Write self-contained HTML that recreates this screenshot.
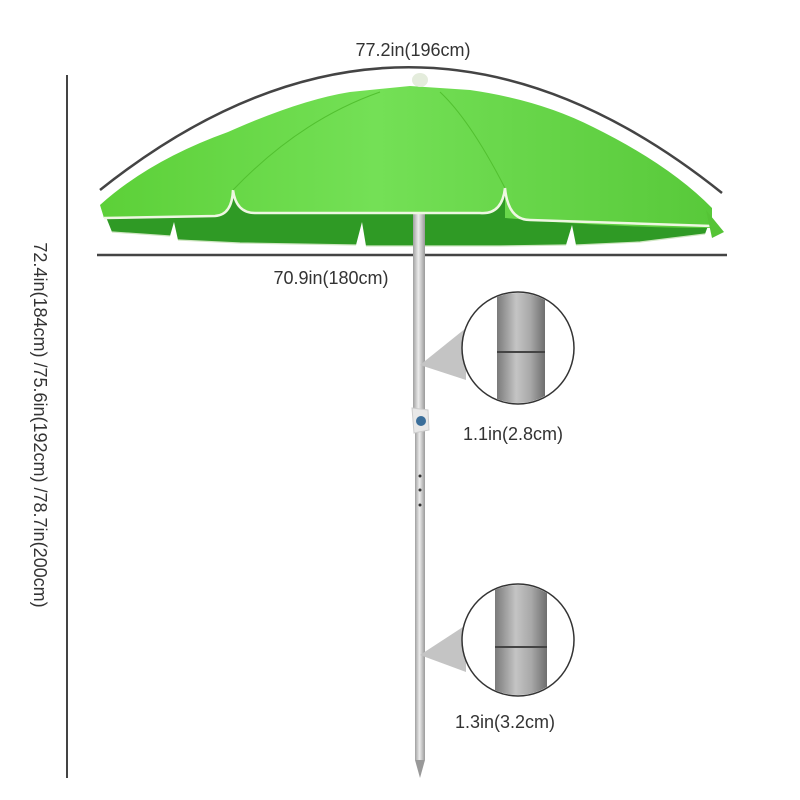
<!DOCTYPE html>
<html><head><meta charset="utf-8"><style>
html,body{margin:0;padding:0;background:#fff;}
svg{display:block;}
text{font-family:"Liberation Sans",sans-serif;fill:#333;font-size:18px;}
</style></head><body>
<svg width="800" height="800" viewBox="0 0 800 800" xmlns="http://www.w3.org/2000/svg">
<defs>
<linearGradient id="pole" x1="0" x2="1" y1="0" y2="0">
<stop offset="0" stop-color="#a0a0a0"/><stop offset="0.45" stop-color="#ececec"/><stop offset="1" stop-color="#9a9a9a"/>
</linearGradient>
<linearGradient id="bigpole" x1="0" x2="1" y1="0" y2="0">
<stop offset="0" stop-color="#7a7a7a"/><stop offset="0.4" stop-color="#c4c4c4"/><stop offset="0.7" stop-color="#a8a8a8"/><stop offset="1" stop-color="#6e6e6e"/>
</linearGradient>
<linearGradient id="canopy" x1="0" x2="1" y1="0" y2="0">
<stop offset="0" stop-color="#5cd038"/><stop offset="0.45" stop-color="#74e056"/><stop offset="1" stop-color="#58c93a"/>
</linearGradient>
<clipPath id="c1"><circle cx="518" cy="348" r="55"/></clipPath>
<clipPath id="c2"><circle cx="518" cy="640" r="55"/></clipPath>
</defs>

<!-- dimension arc -->
<path d="M100,190 Q410,-57 722,193" fill="none" stroke="#444" stroke-width="2.5"/>
<text x="413" y="56" text-anchor="middle">77.2in(196cm)</text>

<!-- underside -->
<path d="M104,212 L112,232 L170,236 L174,222 L178,240 L240,243 L356,245 L362,222 L366,246 L500,246 L566,245 L572,225 L576,245 L640,242 L705,234 L712,215 L600,190 L410,180 L230,190 Z" fill="#2f9a25"/>
<path d="M178,240 L240,243 L356,245 M366,246 L500,246 L566,245 M576,245 L640,242 L705,234 M112,232 L170,236" fill="none" stroke="#cfe6c2" stroke-width="1.2"/>
<rect x="413" y="210" width="12" height="40" fill="url(#pole)"/>
<!-- canopy -->
<path d="M100,205 Q150,160 228,132 Q300,100 350,92 L410,86 L470,90 Q540,100 593,127 Q670,165 712,208 L712,228 Q620,228 505,218 L505,190 Q500,215 480,213 L255,213 Q236,213 234,192 Q232,215 215,216 L104,218 Z" fill="url(#canopy)"/>
<path d="M104,218 L215,216 Q232,215 233,190 Q236,213 255,213 L480,213 Q502,215 505,188 Q508,220 530,220 L712,226" fill="none" stroke="#eef7e2" stroke-width="2.5"/>
<path d="M233,190 Q300,120 380,92 M505,188 Q470,120 440,92" fill="none" stroke="#52c030" stroke-width="1"/>
<path d="M706,210 L724,232 L712,238 Z" fill="#55c436"/>
<ellipse cx="420" cy="80" rx="8" ry="7" fill="#e4ecdc"/>

<!-- horizontal dim -->
<line x1="97" y1="255" x2="727" y2="255" stroke="#444" stroke-width="2.5"/>
<text x="331" y="284" text-anchor="middle">70.9in(180cm)</text>

<!-- vertical dim -->
<line x1="67" y1="75" x2="67" y2="778" stroke="#444" stroke-width="2"/>
<text transform="translate(34,425) rotate(90)" text-anchor="middle">72.4in(184cm) /75.6in(192cm) /78.7in(200cm)</text>

<!-- pole -->
<rect x="413" y="250" width="12" height="160" fill="url(#pole)"/>
<rect x="415" y="430" width="10" height="330" fill="url(#pole)"/>
<path d="M415,760 L425,760 L420,778 Z" fill="#999"/>
<path d="M412,408 L428,410 L429,430 L414,433 Z" fill="#e8e8e8" stroke="#ccc"/>
<circle cx="421" cy="421" r="5" fill="#3a6e9a"/>
<circle cx="420" cy="476" r="1.5" fill="#333"/><circle cx="420" cy="490" r="1.5" fill="#333"/><circle cx="420" cy="505" r="1.5" fill="#333"/>

<!-- callout 1 -->
<path d="M420,365 L466,328 L466,380 Z" fill="#c4c4c4"/>
<circle cx="518" cy="348" r="56" fill="#fff"/>
<g clip-path="url(#c1)"><rect x="497" y="280" width="48" height="140" fill="url(#bigpole)"/>
<line x1="497" y1="352" x2="545" y2="352" stroke="#444" stroke-width="2"/></g>
<circle cx="518" cy="348" r="56" fill="none" stroke="#333" stroke-width="1.5"/>
<text x="463" y="440">1.1in(2.8cm)</text>

<!-- callout 2 -->
<path d="M420,655 L466,625 L466,672 Z" fill="#c4c4c4"/>
<circle cx="518" cy="640" r="56" fill="#fff"/>
<g clip-path="url(#c2)"><rect x="495" y="570" width="52" height="140" fill="url(#bigpole)"/>
<line x1="495" y1="647" x2="547" y2="647" stroke="#444" stroke-width="2"/></g>
<circle cx="518" cy="640" r="56" fill="none" stroke="#333" stroke-width="1.5"/>
<text x="455" y="728">1.3in(3.2cm)</text>
</svg>
</body></html>
